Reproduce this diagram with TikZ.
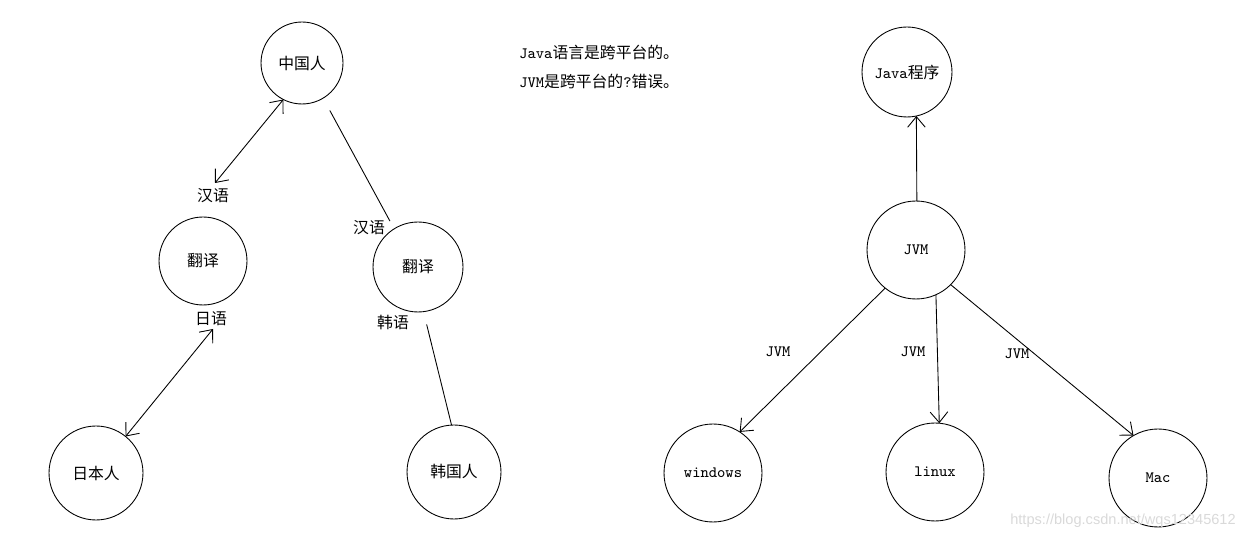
\documentclass[tikz,border=0pt]{standalone}
\usepackage{fontspec}
\setmainfont{Noto Sans CJK SC}
\newfontfamily\wmfont{Liberation Sans}
\usetikzlibrary{arrows.meta}

\begin{document}
\begin{tikzpicture}[x=0.02cm,y=-0.02cm,line width=0.5pt]
        \tikzset{every node/.style={font=\fontsize{9}{10}\selectfont},
            ren/.style={draw,circle,inner sep=0pt,outer sep=0pt,minimum size=#1},
            lat/.style={font=\fontsize{9}{10}\selectfont\ttfamily},
            >={Straight Barb[length=6pt,width=10pt]}}
        \useasboundingbox (0,0) rectangle (1248,540);
        % translation
        \node[ren=1.64cm] (zgr) at (302,63) {中国人};
        \node[ren=1.76cm] (fyL) at (203,261) {翻译};
        \node[ren=1.8cm] (fyR) at (418,267) {翻译};
        \node[ren=1.88cm] (rbr) at (96,473) {日本人};
        \node[ren=1.88cm] (hgr) at (454,472) {韩国人};
        \node (hyL) at (213,196) {汉语};
        \node (hyR) at (369,228) {汉语};
        \node (ry) at (211,319) {日语};
        \node (hy) at (393,323) {韩语};
        \coordinate (hyLe) at (215,183);
        \coordinate (rye) at (213,329);
        \draw[<->] (hyLe) -- (zgr.243);
        \draw[shorten <=8pt,shorten >=5pt] (zgr.301) -- (fyR.122);
        \draw[<->] (rye) -- (rbr.51);
        \draw[shorten <=7.5pt] (fyR.277) -- (hgr.93);
        % notes
        \node[anchor=west] (t1) at (513,52) {{\ttfamily Java}语言是跨平台的。};
        \node[anchor=west] (t2) at (513,81) {{\ttfamily JVM}是跨平台的{\ttfamily ?}错误。};
        % jvm
        \node[ren=1.8cm] (java) at (907,72) {{\ttfamily Java}程序};
        \node[ren=1.96cm,lat] (jvm) at (916,250) {JVM};
        \node[ren=1.96cm,lat] (win) at (713,473) {windows};
        \node[ren=1.96cm,lat] (linux) at (935,472) {linux};
        \node[ren=1.96cm,lat] (mac) at (1158,478) {Mac};
        \draw[->] (jvm.89) -- (java.282);
        \draw[->] (jvm.231) -- (win.57);
        \draw[->] (jvm.294) -- (linux.85);
        \draw[->] (jvm.315) -- (mac.120);
        \node[lat] (j1) at (778,352) {JVM};
        \node[lat] (j2) at (913,352) {JVM};
        \node[lat] (j3) at (1017,354) {JVM};
        \node[font=\wmfont\fontsize{8.3}{10}\selectfont,text=black!15,anchor=east] (wm) at (1242,521) {https://blog.csdn.net/wqs12345612};
    \end{tikzpicture}
\end{document}
